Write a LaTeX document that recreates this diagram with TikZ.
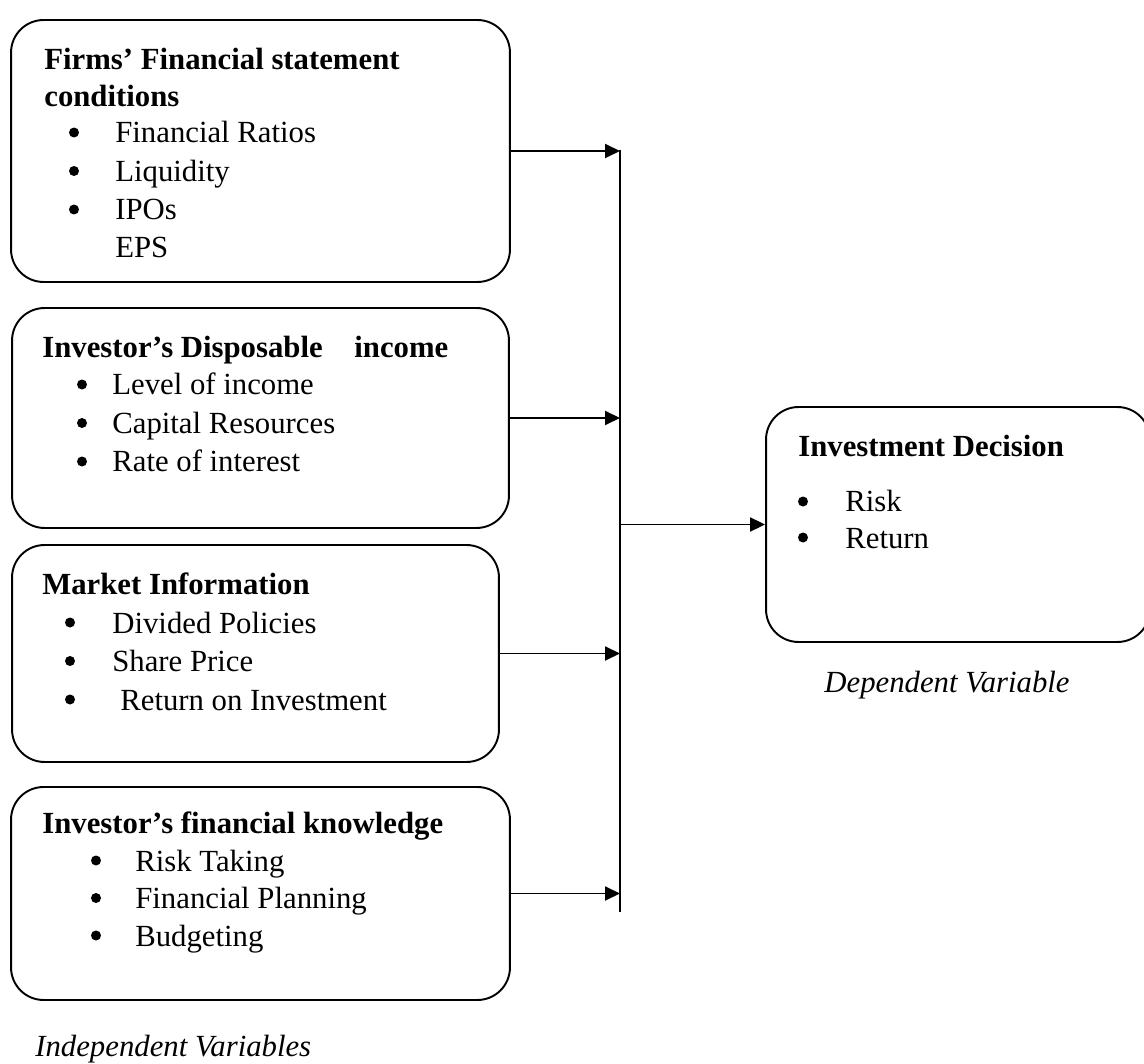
\documentclass[tikz,border=0pt]{standalone}
\usepackage{fontspec}
\setmainfont{Liberation Serif}
\usetikzlibrary{arrows.meta}

\tikzset{
    box/.style={draw, line width=1.1pt, rounded corners=0.65cm, inner sep=0pt},
    ttl/.style={anchor=base west, inner sep=0pt, font=\fontsize{17.5}{21}\selectfont\bfseries},
    itm/.style={anchor=base west, inner sep=0pt, font=\fontsize{17.5}{21}\selectfont},
    dot/.style={circle, fill, inner sep=0pt, minimum size=0.2cm, yshift=0.21cm},
    lbl/.style={inner sep=0pt, font=\fontsize{17.5}{21}\selectfont\itshape},
    arr/.style={line width=1.1pt, -{Triangle[length=0.3cm, width=0.28cm]}}
}

\begin{document}
\begin{tikzpicture}[x=0.02cm, y=-0.02cm]
    \useasboundingbox (0,0) rectangle (1144,1064);

    \node[box, minimum width=9.98cm, minimum height=5.24cm] (fin) at (260.5,151) {};
    \node[box, minimum width=9.94cm, minimum height=4.40cm] (inc) at (260.5,418) {};
    \node[box, minimum width=9.74cm, minimum height=4.34cm] (mkt) at (255.5,653.5) {};
    \node[box, minimum width=9.98cm, minimum height=4.26cm] (know) at (260.5,893.5) {};
    \node[box, minimum width=7.68cm, minimum height=4.70cm] (dec) at (958,524.5) {};

    \node[ttl] (fin-t1) at (44,70) {Firms' Financial statement};
    \node[ttl] (fin-t2) at (44,107) {conditions};
    \foreach \txt [count=\i, evaluate=\i as \yy using 143+38.5*(\i-1)] in {Financial Ratios, Liquidity, IPOs} {
        \node[dot] (fin-b\i) at (74,\yy) {};
        \node[itm] (fin-i\i) at (115,\yy) {\txt};
    }
    \node[itm] (fin-i4) at (115,258) {EPS};

    \node[ttl] (inc-t) at (42,358) {Investor's Disposable\hspace{0.48cm} income};
    \foreach \txt [count=\i, evaluate=\i as \yy using 395+38.5*(\i-1)] in {Level of income, Capital Resources, Rate of interest} {
        \node[dot] (inc-b\i) at (82,\yy) {};
        \node[itm] (inc-i\i) at (112,\yy) {\txt};
    }

    \node[ttl] (mkt-t) at (42,595) {Market Information};
    \foreach \txt [count=\i, evaluate=\i as \yy using 633+38.5*(\i-1)] in {Divided Policies, Share Price} {
        \node[dot] (mkt-b\i) at (70,\yy) {};
        \node[itm] (mkt-i\i) at (112,\yy) {\txt};
    }
    \node[dot] (mkt-b3) at (70,710) {};
    \node[itm] (mkt-i3) at (120,710) {Return on Investment};

    \node[ttl] (know-t) at (42,833) {Investor's financial knowledge};
    \foreach \txt [count=\i, evaluate=\i as \yy using 871+37.5*(\i-1)] in {Risk Taking, Financial Planning, Budgeting} {
        \node[dot] (know-b\i) at (96,\yy) {};
        \node[itm] (know-i\i) at (135,\yy) {\txt};
    }

    \node[ttl] (dec-t) at (798,457) {Investment Decision};
    \foreach \txt [count=\i, evaluate=\i as \yy using 512+36*(\i-1)] in {Risk, Return} {
        \node[dot] (dec-b\i) at (803,\yy) {};
        \node[itm] (dec-i\i) at (845,\yy) {\txt};
    }

    \node[lbl, anchor=base] (dep) at (947,692) {Dependent Variable};
    \node[lbl, anchor=base west] (indep) at (35,1056) {Independent Variables};

    \coordinate (bustop) at (620,150);
    \coordinate (busbot) at (620,912);
    \draw[line width=1.1pt] (bustop) -- (busbot);
    \foreach \b in {fin,inc,mkt,know}
        \draw[arr] (\b.east) -- (\b.east -| bustop);
    \draw[arr] (dec.west -| bustop) -- (dec.west);
\end{tikzpicture}
\end{document}
